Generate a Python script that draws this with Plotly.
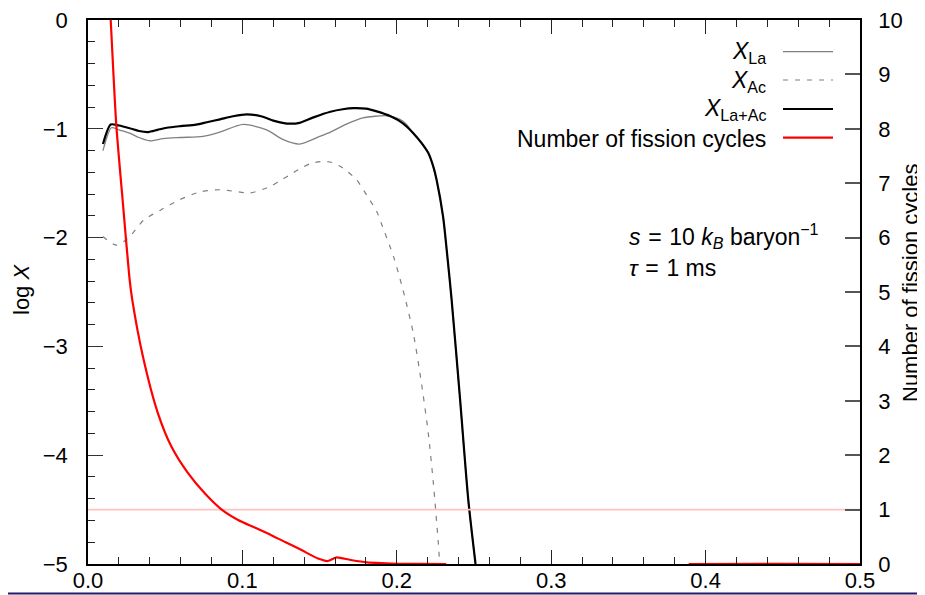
import plotly.graph_objects as go

# ---------------- data ----------------
x_tot = [0.0097, 0.0147, 0.020, 0.027, 0.033, 0.039, 0.045, 0.051, 0.060, 0.070,
         0.077, 0.0855, 0.094, 0.1028, 0.112, 0.120, 0.126, 0.131, 0.137, 0.146,
         0.157, 0.165, 0.172, 0.180, 0.187, 0.196, 0.204, 0.2107, 0.216, 0.2205,
         0.2237, 0.2258, 0.230, 0.2323, 0.2355, 0.241, 0.2463, 0.251]
y_tot = [-1.14, -0.96, -0.97, -0.995, -1.02, -1.03, -1.01, -0.99, -0.975, -0.962,
         -0.94, -0.913, -0.885, -0.867, -0.885, -0.925, -0.945, -0.953, -0.945, -0.895,
         -0.843, -0.82, -0.81, -0.815, -0.84, -0.885, -0.95, -1.04, -1.13, -1.225,
         -1.35, -1.47, -1.81, -2.11, -2.57, -3.49, -4.41, -5.0]

x_la = [0.0097, 0.0152, 0.020, 0.027, 0.033, 0.040, 0.0486, 0.0596, 0.0745, 0.0855,
        0.1006, 0.1157, 0.1265, 0.137, 0.150, 0.157, 0.167, 0.178, 0.1934, 0.202,
        0.206, 0.2107, 0.216, 0.2205, 0.2237, 0.2258, 0.230, 0.2323, 0.2355, 0.241,
        0.2463, 0.251]
y_la = [-1.20, -0.99, -1.01, -1.04, -1.08, -1.11, -1.09, -1.08, -1.07, -1.03,
        -0.96, -1.01, -1.10, -1.14, -1.07, -1.03, -0.96, -0.90, -0.88, -0.913,
        -0.955, -1.045, -1.135, -1.23, -1.355, -1.475, -1.815, -2.115, -2.575, -3.495,
        -4.415, -5.0]

x_ac = [0.0097, 0.0186, 0.027, 0.036, 0.0466, 0.0596, 0.0725, 0.0855, 0.095, 0.105,
        0.118, 0.124, 0.130, 0.137, 0.144, 0.152, 0.158, 0.165, 0.174, 0.1805,
        0.187, 0.190, 0.198, 0.204, 0.2107, 0.216, 0.2204, 0.2237, 0.2269, 0.2278]
y_ac = [-1.99, -2.07, -1.99, -1.84, -1.75, -1.65, -1.58, -1.56, -1.575, -1.59,
        -1.53, -1.48, -1.43, -1.37, -1.32, -1.30, -1.31, -1.36, -1.47, -1.61,
        -1.76, -1.87, -2.18, -2.48, -2.88, -3.34, -3.80, -4.26, -4.81, -5.0]

x_fis = [0.0100, 0.0147, 0.0183, 0.0227, 0.027, 0.0287, 0.0356, 0.0453, 0.054, 0.0648,
         0.0756, 0.0864, 0.0972, 0.108, 0.1187, 0.128, 0.138, 0.149, 0.1554, 0.1608,
         0.170, 0.1805, 0.190, 0.202, 0.215, 0.232, None, 0.389, 0.45, 0.5]
y_fis = [12.5, 10.0, 8.08, 6.6, 5.22, 4.85, 3.81, 2.77, 2.16, 1.67,
         1.30, 1.005, 0.81, 0.67, 0.53, 0.40, 0.26, 0.10, 0.055, 0.12,
         0.074, 0.03, 0.015, 0.005, 0.002, 0.0, None, 0.0, 0.004, 0.0]

fission_threshold = 1
x_range = [0.0, 0.5]
x_ticks = [0.0, 0.1, 0.2, 0.3, 0.4, 0.5]
logx_ticks = [-5, -4, -3, -2, -1, 0]
cycle_ticks = list(range(0, 11))

legend_labels = ["<i>X</i><sub>La</sub>", "<i>X</i><sub>Ac</sub>",
                 "<i>X</i><sub>La+Ac</sub>", "Number of fission cycles"]
info_lines = ["<i>s</i>\u2004=\u200410 <i>k</i><sub><i>B</i></sub> baryon<sup>−1</sup>",
              "<i>τ</i>\u2004=\u20041 ms"]
y_title = "log <i>X</i>"
y2_title = "Number of fission cycles"

# ---------------- styling ----------------
# The page body has an 8px margin, so the figure is drawn at (8, 8) in the window.
OFF = 8
PAGE_W, PAGE_H = 925, 595
W, H = PAGE_W - OFF, PAGE_H - OFF
# plot area in window pixels: x 88..860, y 20..564
PL, PR, PT, PB = 88, 860, 20, 564
ML, MT = PL - OFF, PT - OFF
MR, MB = W - (PR - OFF), H - (PB - OFF)
PW, PH = PR - PL, PB - PT
FONT = "Liberation Sans, Arial, Helvetica, sans-serif"
GREY = "#808080"
RED = "#ff0000"
PINK = "#ffc2c2"


def px_x(px):
    return (px - PL) / PW


def px_y(py):
    return (PB - py) / PH


fig = go.Figure()

fig.add_trace(go.Scatter(x=x_range, y=[fission_threshold] * 2, yaxis="y2", mode="lines",
                         line=dict(color=PINK, width=1.6), showlegend=False, hoverinfo="skip"))
fig.add_trace(go.Scatter(x=x_la, y=y_la, mode="lines", name="X_La",
                         line=dict(color=GREY, width=1.3, shape="spline", smoothing=0.7),
                         showlegend=False))
fig.add_trace(go.Scatter(x=x_ac, y=y_ac, mode="lines", name="X_Ac",
                         line=dict(color=GREY, width=1.2, dash="5px,7px", shape="spline",
                                   smoothing=0.7), showlegend=False))
fig.add_trace(go.Scatter(x=x_tot, y=y_tot, mode="lines", name="X_La+Ac",
                         line=dict(color="#000000", width=2.2, shape="spline", smoothing=0.7),
                         showlegend=False))
fig.add_trace(go.Scatter(x=x_fis, y=y_fis, yaxis="y2", mode="lines", name="fission cycles",
                         line=dict(color=RED, width=2.2, shape="spline", smoothing=0.7),
                         connectgaps=False, showlegend=False))

# custom legend (text right-aligned, sample line on the right)
leg_rows_py = [51.7, 80.0, 109.0, 137.7]
leg_styles = [dict(color=GREY, width=1.3), dict(color=GREY, width=1.2, dash="5px,7px"),
              dict(color="#000000", width=2.2), dict(color=RED, width=2.2)]
shapes = []
annotations = []
for lab, py, st in zip(legend_labels, leg_rows_py, leg_styles):
    annotations.append(dict(text=lab, xref="paper", yref="paper", x=px_x(768), y=px_y(py + 1),
                            xanchor="right", yanchor="middle", showarrow=False,
                            font=dict(family=FONT, size=23, color="black")))
    shapes.append(dict(type="line", xref="paper", yref="paper", x0=px_x(783), x1=px_x(833),
                       y0=px_y(py), y1=px_y(py), line=st))

for txt, py in zip(info_lines, [236, 268]):
    annotations.append(dict(text=txt, xref="paper", yref="paper", x=px_x(627), y=px_y(py),
                            xanchor="left", yanchor="middle", showarrow=False,
                            font=dict(family=FONT, size=23, color="black")))

# axis titles
annotations.append(dict(text=y_title, xref="paper", yref="paper", x=px_x(21), y=px_y(290),
                        xanchor="center", yanchor="middle", textangle=-90, showarrow=False,
                        font=dict(family=FONT, size=22, color="black")))
annotations.append(dict(text=y2_title, xref="paper", yref="paper", x=px_x(910), y=px_y(283),
                        xanchor="center", yanchor="middle", textangle=-90, showarrow=False,
                        font=dict(family=FONT, size=22, color="black")))

# thin navy rule at the bottom of the page
shapes.append(dict(type="line", xref="paper", yref="paper", x0=px_x(OFF), x1=px_x(PAGE_W),
                   y0=px_y(593.5), y1=px_y(593.5), line=dict(color="#1c1c6c", width=2)))

tickfont = dict(family=FONT, size=22, color="black")

fig.update_layout(
    width=W, height=H,
    margin=dict(l=ML, r=MR, t=MT, b=MB, autoexpand=False),
    paper_bgcolor="white", plot_bgcolor="white",
    font=dict(family=FONT, size=22, color="black"),
    showlegend=False,
    shapes=shapes, annotations=annotations,
    xaxis=dict(range=x_range, tickvals=x_ticks, ticktext=[f"{v:.1f}" for v in x_ticks],
               ticks="inside", ticklen=14, tickwidth=1.2, tickcolor="#222",
               minor=dict(dtick=0.02, tick0=0, ticks="inside", ticklen=7, tickwidth=1.2,
                          tickcolor="#222", showgrid=False),
               showline=True, linecolor="black", linewidth=1.6, mirror="ticks",
               showgrid=False, zeroline=False, tickfont=tickfont, ticklabelstandoff=-4,
               ticklabeloverflow="allow", automargin=False),
    yaxis=dict(range=[-5, 0], tickvals=logx_ticks, ticks="inside", ticklen=15, tickwidth=1.2,
               tickcolor="#333",
               minor=dict(dtick=0.2, tick0=0, ticks="inside", ticklen=7, tickwidth=1.2,
                          tickcolor="#222", showgrid=False),
               showline=True, linecolor="black", linewidth=1.6, mirror=False,
               showgrid=False, zeroline=False, tickfont=tickfont, ticklabelstandoff=14,
               ticklabeloverflow="allow", automargin=False),
    yaxis2=dict(range=[0, 10], tickvals=cycle_ticks, overlaying="y", side="right",
                ticks="inside", ticklen=15, tickwidth=1.5, tickcolor="#555",
                showline=True, linecolor="black", linewidth=1.6,
                showgrid=False, zeroline=False, tickfont=tickfont, ticklabelstandoff=12,
                ticklabeloverflow="allow", automargin=False),
)

fig.write_html("out.html")
